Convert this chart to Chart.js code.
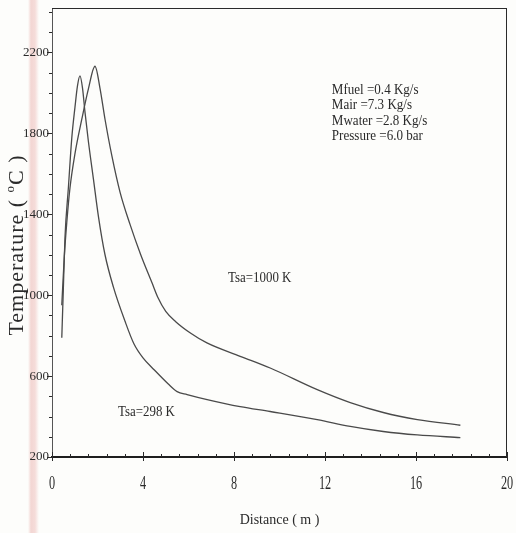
<!DOCTYPE html>
<html>
<head>
<meta charset="utf-8">
<script src="https://cdn.jsdelivr.net/npm/chart.js@4.4.1/dist/chart.umd.min.js"></script>
<style>
  html, body { margin: 0; padding: 0; }
  body {
    background: linear-gradient(to right, #fdfdfb 0, #fdfdfb 28px, #f3d6d3 31px, #f5dcd9 35px, #fdfdfb 39px, #fdfdfb 100%);
  }
  #wrap { position: relative; width: 516px; height: 533px; }
</style>
</head>
<body>
<div id="wrap"><canvas id="tempChart"></canvas></div>
<script>
// Temperature along the combustor, two secondary air temperatures
const dist298 = [0.43, 0.50, 0.57, 0.72, 0.87, 1.01, 1.12, 1.23, 1.34, 1.45, 1.60, 1.82, 2.04, 2.33, 2.70, 3.21, 3.60, 4.00, 4.50, 5.10, 5.50, 5.94, 6.82, 8.27, 9.59, 11.66, 13.11, 14.56, 16.06, 17.95];
const temp298 = [790, 1037, 1284, 1531, 1778, 1930, 2035, 2084, 2025, 1905, 1760, 1575, 1390, 1200, 1040, 871, 760, 690, 630, 562, 523, 509, 484, 449, 425, 385, 351, 326, 309, 296];

const dist1000 = [0.43, 0.54, 0.65, 0.79, 1.01, 1.31, 1.60, 1.89, 2.11, 2.33, 2.63, 2.99, 3.43, 3.90, 4.40, 4.65, 5.00, 5.45, 6.10, 6.81, 8.27, 9.59, 11.66, 13.11, 14.56, 16.06, 17.95];
const temp1000 = [950, 1190, 1360, 1530, 1700, 1870, 2020, 2132, 2023, 1870, 1690, 1510, 1350, 1200, 1060, 990, 920, 868, 812, 764, 698, 640, 533, 469, 420, 385, 357];

const xTicks = [0, 4, 8, 12, 16, 20];
const yTicks = [200, 600, 1000, 1400, 1800, 2200];

const conditions = ["Mfuel =0.4 Kg/s", "Mair =7.3 Kg/s", "Mwater =2.8 Kg/s", "Pressure =6.0 bar"];

const ink = "#2a2a2a";
const serif = "'Liberation Serif', 'DejaVu Serif', serif";

function toPoints(xs, ys) {
  return xs.map((x, i) => ({ x: x, y: ys[i] }));
}

// narrow the glyphs a bit, the old typesetting is condensed
function squeezed(ctx, text, x, y, sx) {
  ctx.save();
  ctx.translate(x, y);
  ctx.scale(sx, 1);
  ctx.fillText(text, 0, 0);
  ctx.restore();
}

// rotated axis title with a raised "o" for degrees
function drawTempTitle(ctx, cx, cy) {
  const big = "22px " + serif;
  const small = "13px " + serif;
  const parts = [
    { t: "Temperature ( ", f: big, dy: 0 },
    { t: "o", f: small, dy: -9 },
    { t: "C )", f: big, dy: 0 },
  ];
  ctx.save();
  ctx.translate(cx, cy);
  ctx.rotate(-Math.PI / 2);
  ctx.letterSpacing = "1px";
  ctx.textBaseline = "alphabetic";
  ctx.textAlign = "left";
  let total = 0;
  parts.forEach(p => { ctx.font = p.f; p.w = ctx.measureText(p.t).width; total += p.w; });
  let x = -total / 2;
  parts.forEach(p => {
    ctx.font = p.f;
    ctx.fillText(p.t, x, 7 + p.dy);
    x += p.w;
  });
  ctx.restore();
}

const paperPlot = {
  id: "paperPlot",
  afterDraw(chart) {
    const { ctx, chartArea: a, scales: { x, y } } = chart;
    ctx.save();
    ctx.strokeStyle = ink;
    ctx.lineWidth = 1;

    // top and right edges of the frame
    ctx.beginPath();
    ctx.moveTo(a.left, a.top + 0.5);
    ctx.lineTo(a.right, a.top + 0.5);
    ctx.moveTo(a.right - 0.5, a.top);
    ctx.lineTo(a.right - 0.5, a.bottom);
    ctx.stroke();

    // bottom axis ticks: minors inside, majors cross the axis
    ctx.beginPath();
    for (let i = 0; i <= 25; i++) {
      const v = i * 0.8;
      const px = Math.round(x.getPixelForValue(v)) + 0.5;
      const major = xTicks.some(t => Math.abs(t - v) < 1e-6);
      ctx.moveTo(px, a.bottom - (major ? 5 : 3));
      ctx.lineTo(px, a.bottom + (major ? 4 : 0));
    }
    // left axis ticks point outward
    for (let v = 200; v <= 2400; v += 100) {
      const py = Math.round(y.getPixelForValue(v)) + 0.5;
      const major = yTicks.includes(v);
      ctx.moveTo(a.left - (major ? 5 : 3), py);
      ctx.lineTo(a.left, py);
    }
    ctx.stroke();

    ctx.fillStyle = ink;

    // bottom tick labels, tall and narrow
    ctx.font = "18px " + serif;
    ctx.textAlign = "center";
    ctx.textBaseline = "middle";
    xTicks.forEach(v => {
      squeezed(ctx, String(v), x.getPixelForValue(v), a.bottom + 27, 0.68);
    });

    // curve labels and operating conditions
    ctx.font = "15px " + serif;
    ctx.textAlign = "left";
    squeezed(ctx, "Tsa=1000 K", x.getPixelForValue(7.74), y.getPixelForValue(1086), 0.86);
    squeezed(ctx, "Tsa=298 K", x.getPixelForValue(2.9), y.getPixelForValue(420), 0.86);

    const cx = x.getPixelForValue(12.3);
    const cy = y.getPixelForValue(2015);
    conditions.forEach((line, i) => {
      squeezed(ctx, line, cx, cy + i * 15.4, 0.87);
    });

    drawTempTitle(ctx, 16, 245);
    ctx.restore();
  },
};

const curveStyle = {
  borderColor: "#4a4a4a",
  borderWidth: 1.3,
  pointRadius: 0,
  fill: false,
  cubicInterpolationMode: "monotone",
};

new Chart(document.getElementById("tempChart"), {
  type: "line",
  data: {
    datasets: [
      Object.assign({ label: "Tsa=298 K", data: toPoints(dist298, temp298) }, curveStyle),
      Object.assign({ label: "Tsa=1000 K", data: toPoints(dist1000, temp1000) }, curveStyle),
    ],
  },
  plugins: [paperPlot],
  options: {
    responsive: true,
    maintainAspectRatio: false,
    animation: false,
    layout: {
      padding: { top: 8, right: 9, left: 0, bottom: 0 },
    },
    plugins: {
      legend: { display: false },
      tooltip: { enabled: false },
    },
    scales: {
      x: {
        type: "linear",
        min: 0,
        max: 20,
        afterBuildTicks: (scale) => {
          scale.ticks = xTicks.map(v => ({ value: v }));
        },
        afterFit: (scale) => {
          scale.height = 76;
          scale.paddingLeft = 0;
          scale.paddingRight = 0;
        },
        grid: { display: false, drawTicks: false },
        border: { display: true, color: "#1e1e1e", width: 2 },
        ticks: { display: false },
        title: {
          display: true,
          text: "Distance ( m )",
          color: ink,
          padding: { top: 0, bottom: 4 },
          font: { family: serif, size: 14 },
        },
      },
      y: {
        type: "linear",
        min: 200,
        max: 2420,
        afterBuildTicks: (scale) => {
          scale.ticks = yTicks.map(v => ({ value: v }));
        },
        afterFit: (scale) => {
          scale.width = 52;
          scale.paddingTop = 0;
          scale.paddingBottom = 0;
        },
        grid: { display: false, drawTicks: false },
        border: { display: true, color: "#555", width: 1 },
        ticks: {
          color: ink,
          padding: 3,
          font: { family: serif, size: 13 },
          callback: (v) => String(v),
        },
      },
    },
  },
});
</script>
</body>
</html>
